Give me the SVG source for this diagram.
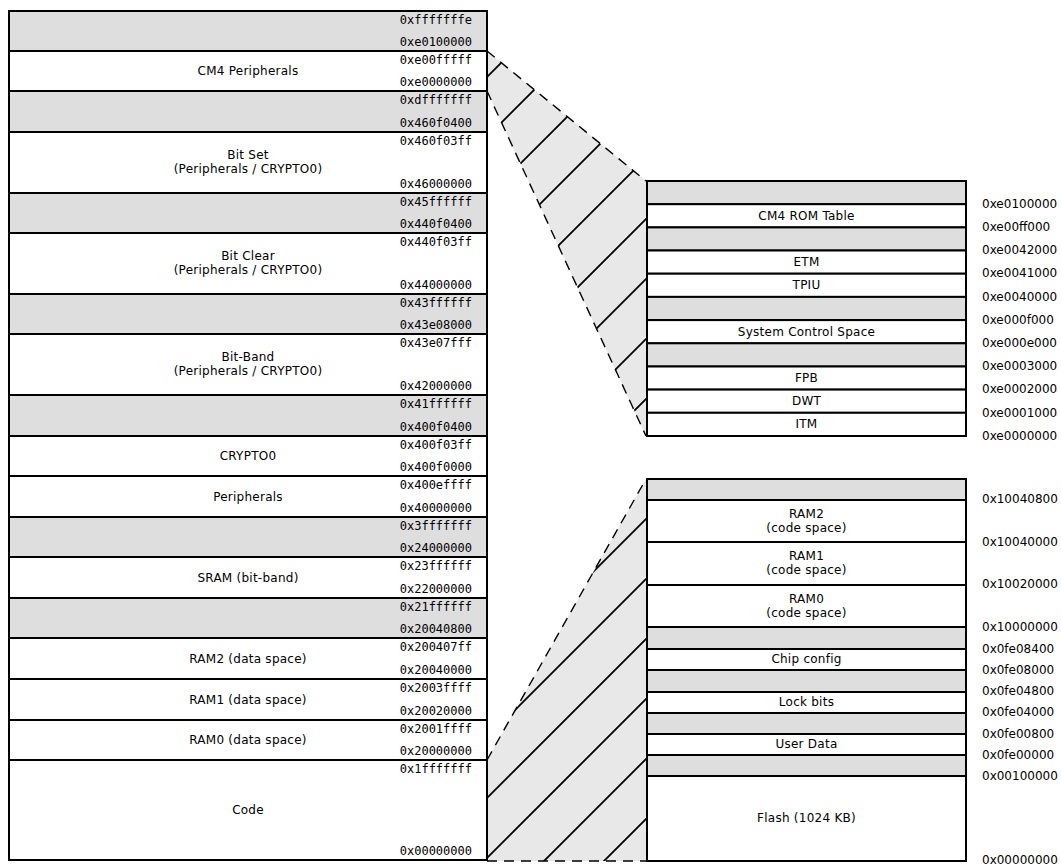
<svg xmlns="http://www.w3.org/2000/svg" width="1061" height="865" viewBox="0 0 1061 865">
<style>
.g{fill:#dedede;stroke:#000;stroke-width:2}
.w{fill:#fff;stroke:#000;stroke-width:2}
.a{font-family:"DejaVu Sans Mono","Liberation Mono",monospace;font-size:12px;text-anchor:end;fill:#000}
.n{font-family:"DejaVu Sans","Liberation Sans",sans-serif;font-size:12px;letter-spacing:0.25px;text-anchor:middle;fill:#000}
.r{font-family:"DejaVu Sans","Liberation Sans",sans-serif;font-size:12px;fill:#000}
.zf{fill:#e8e8e8;stroke:none}
.dash{fill:none;stroke:#000;stroke-width:1.4;stroke-dasharray:10,7}
.hatch{fill:none;stroke:#000;stroke-width:1.8}
</style>
<defs>
<clipPath id="c1"><polygon points="487,51 646,181 646,436 487,91"/></clipPath>
<clipPath id="c2"><polygon points="487,760 646,479 646,861 487,861"/></clipPath>
</defs>
<g id="connectors">
<polygon class="zf" points="487,51 646,181 646,436 487,91"/>
<path class="hatch" clip-path="url(#c1)" d="M480,84L660,-96M480,144L660,-36M480,204L660,24M480,264L660,84M480,324L660,144M480,385L660,205M480,445L660,265M480,505L660,325M480,565L660,385"/>
<path class="dash" d="M487,51L646,181M487,91L646,436"/>
<polygon class="zf" points="487,760 646,479 646,861 487,861"/>
<path class="hatch" clip-path="url(#c2)" d="M480,685L660,505M480,745L660,565M480,805L660,625M480,865L660,685M480,925L660,745M480,985L660,805"/>
<path class="dash" d="M487,760L646,479M487,861L646,861"/>
</g>
<g id="left-map">
<g id="l1"><rect class="g" x="9" y="11" width="478" height="40"/><text class="a" x="472" y="23.5">0xfffffffe</text><text class="a" x="472" y="45.5">0xe0100000</text></g>
<g id="l2"><rect class="w" x="9" y="51" width="478" height="40"/><text class="n" x="248" y="75.3">CM4 Peripherals</text><text class="a" x="472" y="63.5">0xe00fffff</text><text class="a" x="472" y="85.5">0xe0000000</text></g>
<g id="l3"><rect class="g" x="9" y="91" width="478" height="41"/><text class="a" x="472" y="103.5">0xdfffffff</text><text class="a" x="472" y="126.5">0x460f0400</text></g>
<g id="l4"><rect class="w" x="9" y="132" width="478" height="61"/><text class="n" x="248" y="159">Bit Set</text><text class="n" x="248" y="173">(Peripherals / CRYPTO0)</text><text class="a" x="472" y="144.5">0x460f03ff</text><text class="a" x="472" y="187.5">0x46000000</text></g>
<g id="l5"><rect class="g" x="9" y="193" width="478" height="40"/><text class="a" x="472" y="205.5">0x45ffffff</text><text class="a" x="472" y="227.5">0x440f0400</text></g>
<g id="l6"><rect class="w" x="9" y="233" width="478" height="61"/><text class="n" x="248" y="260">Bit Clear</text><text class="n" x="248" y="274">(Peripherals / CRYPTO0)</text><text class="a" x="472" y="245.5">0x440f03ff</text><text class="a" x="472" y="288.5">0x44000000</text></g>
<g id="l7"><rect class="g" x="9" y="294" width="478" height="40"/><text class="a" x="472" y="306.5">0x43ffffff</text><text class="a" x="472" y="328.5">0x43e08000</text></g>
<g id="l8"><rect class="w" x="9" y="334" width="478" height="61"/><text class="n" x="248" y="361">Bit-Band</text><text class="n" x="248" y="375">(Peripherals / CRYPTO0)</text><text class="a" x="472" y="346.5">0x43e07fff</text><text class="a" x="472" y="389.5">0x42000000</text></g>
<g id="l9"><rect class="g" x="9" y="395" width="478" height="41"/><text class="a" x="472" y="407.5">0x41ffffff</text><text class="a" x="472" y="430.5">0x400f0400</text></g>
<g id="l10"><rect class="w" x="9" y="436" width="478" height="40"/><text class="n" x="248" y="460.3">CRYPTO0</text><text class="a" x="472" y="448.5">0x400f03ff</text><text class="a" x="472" y="470.5">0x400f0000</text></g>
<g id="l11"><rect class="w" x="9" y="476" width="478" height="41"/><text class="n" x="248" y="500.8">Peripherals</text><text class="a" x="472" y="488.5">0x400effff</text><text class="a" x="472" y="511.5">0x40000000</text></g>
<g id="l12"><rect class="g" x="9" y="517" width="478" height="40"/><text class="a" x="472" y="529.5">0x3fffffff</text><text class="a" x="472" y="551.5">0x24000000</text></g>
<g id="l13"><rect class="w" x="9" y="557" width="478" height="41"/><text class="n" x="248" y="581.8">SRAM (bit-band)</text><text class="a" x="472" y="569.5">0x23ffffff</text><text class="a" x="472" y="592.5">0x22000000</text></g>
<g id="l14"><rect class="g" x="9" y="598" width="478" height="40"/><text class="a" x="472" y="610.5">0x21ffffff</text><text class="a" x="472" y="632.5">0x20040800</text></g>
<g id="l15"><rect class="w" x="9" y="638" width="478" height="41"/><text class="n" x="248" y="662.8">RAM2 (data space)</text><text class="a" x="472" y="650.5">0x200407ff</text><text class="a" x="472" y="673.5">0x20040000</text></g>
<g id="l16"><rect class="w" x="9" y="679" width="478" height="41"/><text class="n" x="248" y="703.8">RAM1 (data space)</text><text class="a" x="472" y="691.5">0x2003ffff</text><text class="a" x="472" y="714.5">0x20020000</text></g>
<g id="l17"><rect class="w" x="9" y="720" width="478" height="40"/><text class="n" x="248" y="744.3">RAM0 (data space)</text><text class="a" x="472" y="732.5">0x2001ffff</text><text class="a" x="472" y="754.5">0x20000000</text></g>
<g id="l18"><rect class="w" x="9" y="760" width="478" height="100"/><text class="n" x="248" y="814.3">Code</text><text class="a" x="472" y="772.5">0x1fffffff</text><text class="a" x="472" y="854.5">0x00000000</text></g>
</g>
<g id="cm4-map">
<g id="t1"><rect class="g" x="647" y="181" width="319" height="23.2"/></g>
<g id="t2"><rect class="w" x="647" y="204.2" width="319" height="23.2"/><text class="n" x="806.5" y="219.8">CM4 ROM Table</text></g>
<g id="t3"><rect class="g" x="647" y="227.4" width="319" height="23.1"/></g>
<g id="t4"><rect class="w" x="647" y="250.5" width="319" height="23.2"/><text class="n" x="806.5" y="266">ETM</text></g>
<g id="t5"><rect class="w" x="647" y="273.7" width="319" height="23.2"/><text class="n" x="806.5" y="289.2">TPIU</text></g>
<g id="t6"><rect class="g" x="647" y="296.9" width="319" height="23.2"/></g>
<g id="t7"><rect class="w" x="647" y="320.1" width="319" height="23.2"/><text class="n" x="806.5" y="335.6">System Control Space</text></g>
<g id="t8"><rect class="g" x="647" y="343.3" width="319" height="23.2"/></g>
<g id="t9"><rect class="w" x="647" y="366.5" width="319" height="23.1"/><text class="n" x="806.5" y="382">FPB</text></g>
<g id="t10"><rect class="w" x="647" y="389.6" width="319" height="23.2"/><text class="n" x="806.5" y="405.1">DWT</text></g>
<g id="t11"><rect class="w" x="647" y="412.8" width="319" height="23.2"/><text class="n" x="806.5" y="428.3">ITM</text></g>
<g id="t-addr">
<text class="r" x="982" y="208">0xe0100000</text>
<text class="r" x="982" y="231">0xe00ff000</text>
<text class="r" x="982" y="254">0xe0042000</text>
<text class="r" x="982" y="277">0xe0041000</text>
<text class="r" x="982" y="300.5">0xe0040000</text>
<text class="r" x="982" y="323.5">0xe000f000</text>
<text class="r" x="982" y="347">0xe000e000</text>
<text class="r" x="982" y="370">0xe0003000</text>
<text class="r" x="982" y="393">0xe0002000</text>
<text class="r" x="982" y="416.5">0xe0001000</text>
<text class="r" x="982" y="439.5">0xe0000000</text>
</g>
</g>
<g id="code-map">
<g id="b1"><rect class="g" x="647" y="479" width="319" height="21"/></g>
<g id="b2"><rect class="w" x="647" y="500" width="319" height="42"/><text class="n" x="806.5" y="517.6">RAM2</text><text class="n" x="806.5" y="531.5">(code space)</text></g>
<g id="b3"><rect class="w" x="647" y="542" width="319" height="43"/><text class="n" x="806.5" y="560">RAM1</text><text class="n" x="806.5" y="574">(code space)</text></g>
<g id="b4"><rect class="w" x="647" y="585" width="319" height="42"/><text class="n" x="806.5" y="602.6">RAM0</text><text class="n" x="806.5" y="616.5">(code space)</text></g>
<g id="b5"><rect class="g" x="647" y="627" width="319" height="22"/></g>
<g id="b6"><rect class="w" x="647" y="649" width="319" height="21"/><text class="n" x="806.5" y="662.8">Chip config</text></g>
<g id="b7"><rect class="g" x="647" y="670" width="319" height="22"/></g>
<g id="b8"><rect class="w" x="647" y="692" width="319" height="21"/><text class="n" x="806.5" y="705.8">Lock bits</text></g>
<g id="b9"><rect class="g" x="647" y="713" width="319" height="21"/></g>
<g id="b10"><rect class="w" x="647" y="734" width="319" height="21"/><text class="n" x="806.5" y="747.8">User Data</text></g>
<g id="b11"><rect class="g" x="647" y="755" width="319" height="21"/></g>
<g id="b12"><rect class="w" x="647" y="776" width="319" height="85"/><text class="n" x="806.5" y="822">Flash (1024 KB)</text></g>
<g id="b-addr">
<text class="r" x="982" y="502.5">0x10040800</text>
<text class="r" x="982" y="545.5">0x10040000</text>
<text class="r" x="982" y="587.5">0x10020000</text>
<text class="r" x="982" y="630.5">0x10000000</text>
<text class="r" x="982" y="652.5">0x0fe08400</text>
<text class="r" x="982" y="673.5">0x0fe08000</text>
<text class="r" x="982" y="694.5">0x0fe04800</text>
<text class="r" x="982" y="715.5">0x0fe04000</text>
<text class="r" x="982" y="737.5">0x0fe00800</text>
<text class="r" x="982" y="758.5">0x0fe00000</text>
<text class="r" x="982" y="779.5">0x00100000</text>
<text class="r" x="982" y="864">0x00000000</text>
</g>
</g>
</svg>
